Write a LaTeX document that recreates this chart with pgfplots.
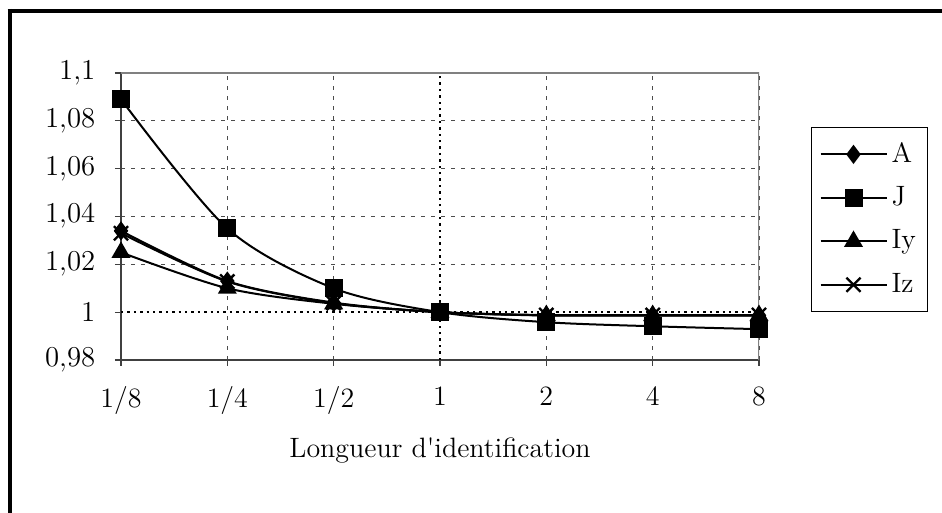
\documentclass[border=0pt]{standalone}
\usepackage{pgfplots}
\pgfplotsset{compat=1.18}
\pgfplotsset{
  legend image code/.code={\draw[mark repeat=2,mark phase=2,#1] plot coordinates {(0pt,0pt) (16.5pt,0pt) (33pt,0pt)};}
}
\begin{document}
\fontsize{14}{17}\selectfont
\begin{tikzpicture}[x=1pt,y=1pt]
\useasboundingbox (0,0) rectangle (471,256.5);
\draw[line width=2pt] (3.75,251) -- (471,251);
\draw[line width=2pt] (4.75,252) -- (4.75,0);
\begin{axis}[
  at={(60.5pt,76.5pt)}, anchor=south west,
  scale only axis, width=319pt, height=143.5pt,
  font=\fontsize{14}{17}\selectfont,
  xmin=0, xmax=6, ymin=0.98, ymax=1.1,
  axis lines=left,
  axis line style={-, draw=black!75, line width=0.8pt},
  tick align=outside, major tick length=3pt,
  tick style={black!75, line width=0.6pt},
  xtick={0,1,2,4,5,6}, xticklabels={1/8,1/4,1/2,2,4,8},
  extra x ticks={3}, extra x tick labels={1},
  ytick={0.98,1.02,1.04,1.06,1.08,1.1},
  extra y ticks={1},
  grid=major,
  major grid style={black!70, line width=0.5pt, dash pattern=on 2pt off 3pt},
  extra x tick style={major grid style={black, line width=1.1pt, dash pattern=on 1.2pt off 2pt}},
  extra y tick style={major grid style={black, line width=1.1pt, dash pattern=on 1.2pt off 2pt}},
  /pgf/number format/use comma,
  /pgf/number format/fixed,
  /pgf/number format/precision=2,
  yticklabel style={xshift=-5pt},
  xticklabel style={yshift=-5.5pt},
  xlabel={Longueur d\textquotesingle identification},
  xlabel style={at={(axis description cs:0.5,0)}, anchor=center, yshift=-45.5pt},
  legend style={at={(axis description cs:1,0.49)}, anchor=west, xshift=26pt,
    draw=black, line width=0.5pt, row sep=6pt, inner xsep=4pt, inner ysep=5.5pt,
    font=\fontsize{14}{17}\selectfont},
  legend cell align=left,
]
\addplot[black, line width=1pt, smooth, tension=0.5, mark=diamond*, mark size=4pt, mark options={solid, fill=black}] coordinates {
 (0,1.034) (1,1.013) (2,1.004) (3,1.000) (4,0.9987) (5,0.9987) (6,0.9987)};
\addlegendentry{A}
\addplot[black, line width=1pt, smooth, tension=0.5, mark=square*, mark size=4pt, mark options={solid, fill=black}] coordinates {
 (0,1.089) (1,1.035) (2,1.010) (3,1.000) (4,0.9958) (5,0.9941) (6,0.9929)};
\addlegendentry{J}
\addplot[black, line width=1pt, smooth, tension=0.5, mark=triangle*, mark size=4.5pt, mark options={solid, fill=black}] coordinates {
 (0,1.025) (1,1.010) (2,1.0035) (3,1.000) (4,0.9986) (5,0.9986) (6,0.9986)};
\addlegendentry{Iy}
\addplot[black, line width=1pt, smooth, tension=0.5, mark=x, mark size=5pt, mark options={solid, line width=1.2pt}] coordinates {
 (0,1.033) (1,1.0128) (2,1.0038) (3,1.000) (4,0.9988) (5,0.9988) (6,0.9988)};
\addlegendentry{Iz}
\draw[black!50, line width=0.8pt] (rel axis cs:0,1) -- (rel axis cs:1,1) -- (rel axis cs:1,0);
\end{axis}
\end{tikzpicture}
\end{document}
